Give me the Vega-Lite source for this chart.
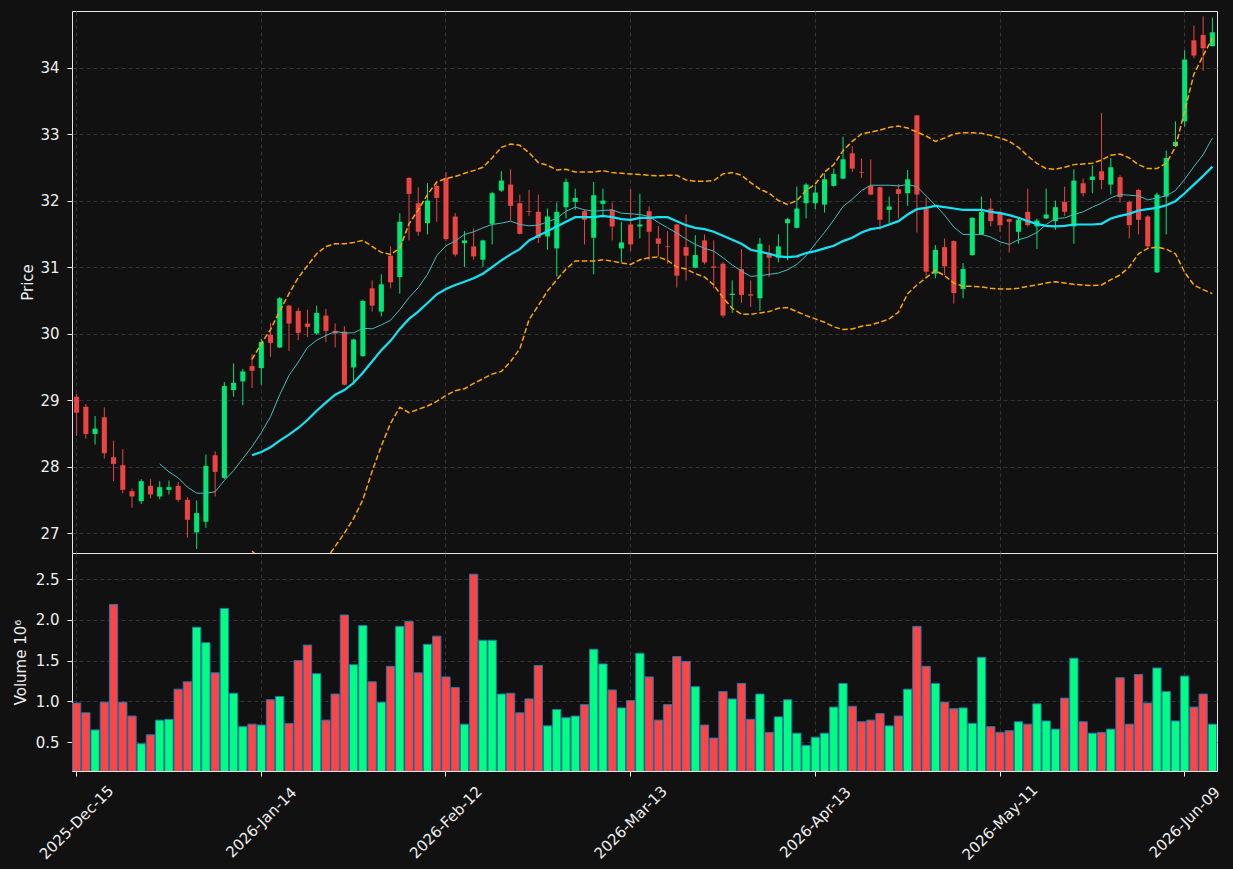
{
  "$schema": "https://vega.github.io/schema/vega-lite/v6.json",
  "background": "#111111",
  "padding": {"left": 12, "top": 10, "right": 17, "bottom": 5},
  "config": {
    "view": {"stroke": "#e8e8e8", "strokeWidth": 1, "fill": "#111111"},
    "axis": {
      "domain": false,
      "labelFont": "DejaVu Sans", "titleFont": "DejaVu Sans",
      "labelFontSize": 15, "titleFontSize": 15, "titleFontWeight": "normal",
      "labelColor": "#eeeeee", "titleColor": "#eeeeee", "tickColor": "#eeeeee",
      "gridColor": "#3d3d3d", "gridDash": [4, 3], "gridWidth": 0.8
    }
  },
  "data": {"values": [
    {"d":"2025-Dec-15","o":29.05,"h":29.09,"l":28.46,"c":28.81,"v":0.98},
    {"d":"2025-Dec-16","o":28.90,"h":28.94,"l":28.42,"c":28.49,"v":0.86},
    {"d":"2025-Dec-17","o":28.49,"h":28.76,"l":28.33,"c":28.57,"v":0.65},
    {"d":"2025-Dec-18","o":28.74,"h":28.89,"l":28.12,"c":28.20,"v":0.99},
    {"d":"2025-Dec-19","o":28.14,"h":28.39,"l":27.78,"c":28.04,"v":2.19},
    {"d":"2025-Dec-22","o":28.02,"h":28.26,"l":27.60,"c":27.65,"v":0.99},
    {"d":"2025-Dec-23","o":27.63,"h":27.67,"l":27.38,"c":27.55,"v":0.82},
    {"d":"2025-Dec-24","o":27.48,"h":27.81,"l":27.44,"c":27.78,"v":0.48},
    {"d":"2025-Dec-26","o":27.71,"h":27.81,"l":27.52,"c":27.58,"v":0.59},
    {"d":"2025-Dec-29","o":27.55,"h":27.78,"l":27.51,"c":27.69,"v":0.77,"m10":28.04},
    {"d":"2025-Dec-30","o":27.65,"h":27.79,"l":27.58,"c":27.69,"v":0.78,"m10":27.92},
    {"d":"2025-Dec-31","o":27.71,"h":27.77,"l":27.47,"c":27.50,"v":1.15,"m10":27.83},
    {"d":"2026-Jan-02","o":27.50,"h":27.54,"l":26.93,"c":27.20,"v":1.24,"m10":27.69},
    {"d":"2026-Jan-05","o":27.01,"h":27.49,"l":26.76,"c":27.30,"v":1.91,"m10":27.60},
    {"d":"2026-Jan-06","o":27.17,"h":28.18,"l":27.08,"c":28.01,"v":1.72,"m10":27.60},
    {"d":"2026-Jan-07","o":28.17,"h":28.23,"l":27.55,"c":27.92,"v":1.35,"m10":27.62},
    {"d":"2026-Jan-08","o":27.83,"h":29.27,"l":27.81,"c":29.21,"v":2.14,"m10":27.79},
    {"d":"2026-Jan-09","o":29.15,"h":29.55,"l":29.05,"c":29.26,"v":1.10,"m10":27.94},
    {"d":"2026-Jan-12","o":29.28,"h":29.47,"l":28.92,"c":29.43,"v":0.69,"m10":28.12},
    {"d":"2026-Jan-13","o":29.51,"h":29.69,"l":29.18,"c":29.44,"v":0.72,"m10":28.30,"m20":28.17,"bu":29.61,"bl":26.73},
    {"d":"2026-Jan-14","o":29.48,"h":29.92,"l":29.23,"c":29.87,"v":0.71,"m10":28.51,"m20":28.22,"bu":29.85,"bl":26.59},
    {"d":"2026-Jan-15","o":29.98,"h":30.16,"l":29.65,"c":29.86,"v":1.02,"m10":28.75,"m20":28.29,"bu":30.06,"bl":26.52},
    {"d":"2026-Jan-16","o":29.79,"h":30.55,"l":29.78,"c":30.53,"v":1.06,"m10":29.08,"m20":28.39,"bu":30.34,"bl":26.43},
    {"d":"2026-Jan-20","o":30.42,"h":30.43,"l":29.74,"c":30.15,"v":0.73,"m10":29.37,"m20":28.48,"bu":30.60,"bl":26.37},
    {"d":"2026-Jan-21","o":30.34,"h":30.39,"l":29.90,"c":30.01,"v":1.50,"m10":29.57,"m20":28.58,"bu":30.84,"bl":26.32},
    {"d":"2026-Jan-22","o":30.15,"h":30.36,"l":29.95,"c":30.10,"v":1.69,"m10":29.79,"m20":28.70,"bu":31.02,"bl":26.39},
    {"d":"2026-Jan-23","o":30.00,"h":30.42,"l":29.98,"c":30.31,"v":1.34,"m10":29.90,"m20":28.84,"bu":31.20,"bl":26.48},
    {"d":"2026-Jan-26","o":30.27,"h":30.37,"l":29.87,"c":30.04,"v":0.77,"m10":29.97,"m20":28.96,"bu":31.31,"bl":26.60},
    {"d":"2026-Jan-27","o":30.04,"h":30.15,"l":29.79,"c":30.00,"v":1.09,"m10":30.03,"m20":29.08,"bu":31.35,"bl":26.80},
    {"d":"2026-Jan-28","o":30.03,"h":30.11,"l":29.22,"c":29.23,"v":2.06,"m10":30.01,"m20":29.15,"bu":31.35,"bl":27.00},
    {"d":"2026-Jan-29","o":29.49,"h":29.92,"l":29.23,"c":29.91,"v":1.45,"m10":30.01,"m20":29.26,"bu":31.37,"bl":27.22},
    {"d":"2026-Jan-30","o":29.66,"h":30.51,"l":29.65,"c":30.49,"v":1.93,"m10":30.08,"m20":29.41,"bu":31.40,"bl":27.50},
    {"d":"2026-Feb-02","o":30.68,"h":30.80,"l":30.33,"c":30.42,"v":1.24,"m10":30.07,"m20":29.58,"bu":31.31,"bl":27.93},
    {"d":"2026-Feb-03","o":30.33,"h":30.89,"l":30.26,"c":30.74,"v":0.99,"m10":30.13,"m20":29.75,"bu":31.22,"bl":28.31},
    {"d":"2026-Feb-04","o":31.17,"h":31.31,"l":30.68,"c":30.77,"v":1.43,"m10":30.20,"m20":29.89,"bu":31.19,"bl":28.65},
    {"d":"2026-Feb-05","o":30.85,"h":31.81,"l":30.60,"c":31.68,"v":1.92,"m10":30.36,"m20":30.07,"bu":31.28,"bl":28.89},
    {"d":"2026-Feb-06","o":32.34,"h":32.35,"l":31.40,"c":32.10,"v":1.98,"m10":30.54,"m20":30.22,"bu":31.65,"bl":28.81},
    {"d":"2026-Feb-09","o":31.96,"h":32.20,"l":31.47,"c":31.53,"v":1.35,"m10":30.69,"m20":30.33,"bu":31.86,"bl":28.86},
    {"d":"2026-Feb-10","o":31.66,"h":32.26,"l":31.49,"c":32.00,"v":1.70,"m10":30.89,"m20":30.46,"bu":32.09,"bl":28.91},
    {"d":"2026-Feb-11","o":32.22,"h":32.28,"l":31.68,"c":32.04,"v":1.80,"m10":31.17,"m20":30.59,"bu":32.28,"bl":28.98},
    {"d":"2026-Feb-12","o":32.34,"h":32.43,"l":31.39,"c":31.42,"v":1.30,"m10":31.32,"m20":30.67,"bu":32.33,"bl":29.07},
    {"d":"2026-Feb-13","o":31.76,"h":31.81,"l":31.16,"c":31.19,"v":1.17,"m10":31.39,"m20":30.73,"bu":32.36,"bl":29.14},
    {"d":"2026-Feb-17","o":31.36,"h":31.54,"l":31.00,"c":31.40,"v":0.72,"m10":31.49,"m20":30.78,"bu":32.41,"bl":29.17},
    {"d":"2026-Feb-18","o":31.31,"h":31.58,"l":31.11,"c":31.16,"v":2.56,"m10":31.53,"m20":30.83,"bu":32.45,"bl":29.25},
    {"d":"2026-Feb-19","o":31.11,"h":31.41,"l":31.00,"c":31.40,"v":1.75,"m10":31.59,"m20":30.90,"bu":32.50,"bl":29.32},
    {"d":"2026-Feb-20","o":31.65,"h":32.13,"l":31.34,"c":32.11,"v":1.75,"m10":31.64,"m20":31.00,"bu":32.64,"bl":29.39},
    {"d":"2026-Feb-23","o":32.15,"h":32.44,"l":32.13,"c":32.30,"v":1.09,"m10":31.66,"m20":31.10,"bu":32.80,"bl":29.43},
    {"d":"2026-Feb-24","o":32.24,"h":32.47,"l":31.70,"c":31.92,"v":1.10,"m10":31.69,"m20":31.19,"bu":32.85,"bl":29.58},
    {"d":"2026-Feb-25","o":31.96,"h":32.09,"l":31.49,"c":31.50,"v":0.86,"m10":31.64,"m20":31.27,"bu":32.83,"bl":29.77},
    {"d":"2026-Feb-26","o":31.84,"h":32.16,"l":31.77,"c":31.83,"v":1.03,"m10":31.62,"m20":31.40,"bu":32.72,"bl":30.21},
    {"d":"2026-Feb-27","o":31.83,"h":32.09,"l":31.36,"c":31.44,"v":1.44,"m10":31.63,"m20":31.47,"bu":32.57,"bl":30.42},
    {"d":"2026-Mar-02","o":31.46,"h":31.88,"l":31.26,"c":31.76,"v":0.70,"m10":31.68,"m20":31.54,"bu":32.53,"bl":30.64},
    {"d":"2026-Mar-03","o":31.28,"h":31.97,"l":30.86,"c":31.83,"v":0.90,"m10":31.73,"m20":31.61,"bu":32.46,"bl":30.81},
    {"d":"2026-Mar-04","o":31.90,"h":32.33,"l":31.73,"c":32.28,"v":0.80,"m10":31.84,"m20":31.68,"bu":32.47,"bl":30.97},
    {"d":"2026-Mar-05","o":31.98,"h":32.18,"l":31.86,"c":32.04,"v":0.82,"m10":31.90,"m20":31.75,"bu":32.43,"bl":31.09},
    {"d":"2026-Mar-06","o":31.84,"h":31.86,"l":31.34,"c":31.71,"v":0.96,"m10":31.86,"m20":31.75,"bu":32.43,"bl":31.09},
    {"d":"2026-Mar-09","o":31.44,"h":32.28,"l":30.89,"c":32.08,"v":1.64,"m10":31.84,"m20":31.75,"bu":32.43,"bl":31.09},
    {"d":"2026-Mar-10","o":31.95,"h":32.18,"l":31.75,"c":32.00,"v":1.46,"m10":31.85,"m20":31.77,"bu":32.45,"bl":31.11},
    {"d":"2026-Mar-11","o":31.86,"h":31.97,"l":31.40,"c":31.61,"v":1.14,"m10":31.86,"m20":31.75,"bu":32.42,"bl":31.09},
    {"d":"2026-Mar-12","o":31.28,"h":31.68,"l":31.07,"c":31.37,"v":0.92,"m10":31.81,"m20":31.72,"bu":32.41,"bl":31.06},
    {"d":"2026-Mar-13","o":31.64,"h":32.17,"l":31.24,"c":31.34,"v":1.01,"m10":31.80,"m20":31.71,"bu":32.40,"bl":31.04},
    {"d":"2026-Mar-16","o":31.61,"h":32.10,"l":31.43,"c":31.64,"v":1.59,"m10":31.79,"m20":31.74,"bu":32.39,"bl":31.11},
    {"d":"2026-Mar-17","o":31.84,"h":31.91,"l":31.10,"c":31.53,"v":1.30,"m10":31.76,"m20":31.74,"bu":32.38,"bl":31.14},
    {"d":"2026-Mar-18","o":31.43,"h":31.62,"l":31.16,"c":31.35,"v":0.77,"m10":31.67,"m20":31.75,"bu":32.37,"bl":31.15},
    {"d":"2026-Mar-19","o":31.31,"h":31.54,"l":31.05,"c":31.30,"v":0.96,"m10":31.59,"m20":31.75,"bu":32.38,"bl":31.10},
    {"d":"2026-Mar-20","o":31.64,"h":31.65,"l":30.69,"c":30.87,"v":1.55,"m10":31.51,"m20":31.69,"bu":32.38,"bl":31.00},
    {"d":"2026-Mar-23","o":31.30,"h":31.79,"l":30.80,"c":31.17,"v":1.49,"m10":31.42,"m20":31.63,"bu":32.31,"bl":30.97},
    {"d":"2026-Mar-24","o":30.99,"h":31.48,"l":30.98,"c":31.18,"v":1.18,"m10":31.34,"m20":31.59,"bu":32.29,"bl":30.90},
    {"d":"2026-Mar-25","o":31.40,"h":31.49,"l":31.04,"c":31.07,"v":0.71,"m10":31.28,"m20":31.57,"bu":32.29,"bl":30.85},
    {"d":"2026-Mar-26","o":31.01,"h":31.40,"l":30.68,"c":30.99,"v":0.55,"m10":31.24,"m20":31.53,"bu":32.30,"bl":30.73},
    {"d":"2026-Mar-27","o":31.05,"h":31.07,"l":30.24,"c":30.27,"v":1.12,"m10":31.14,"m20":31.47,"bu":32.40,"bl":30.54},
    {"d":"2026-Mar-30","o":30.58,"h":30.80,"l":30.31,"c":30.60,"v":1.03,"m10":31.03,"m20":31.41,"bu":32.42,"bl":30.38},
    {"d":"2026-Mar-31","o":30.97,"h":31.27,"l":30.46,"c":30.58,"v":1.22,"m10":30.94,"m20":31.35,"bu":32.38,"bl":30.29},
    {"d":"2026-Apr-01","o":30.59,"h":30.80,"l":30.40,"c":30.57,"v":0.78,"m10":30.86,"m20":31.26,"bu":32.27,"bl":30.29},
    {"d":"2026-Apr-02","o":30.53,"h":31.44,"l":30.34,"c":31.35,"v":1.09,"m10":30.87,"m20":31.23,"bu":32.17,"bl":30.31},
    {"d":"2026-Apr-06","o":31.20,"h":31.33,"l":30.85,"c":31.14,"v":0.62,"m10":30.89,"m20":31.20,"bu":32.11,"bl":30.33},
    {"d":"2026-Apr-07","o":31.14,"h":31.49,"l":31.07,"c":31.31,"v":0.81,"m10":30.91,"m20":31.16,"bu":32.00,"bl":30.38},
    {"d":"2026-Apr-08","o":31.66,"h":31.74,"l":31.10,"c":31.72,"v":1.02,"m10":30.96,"m20":31.15,"bu":31.94,"bl":30.39},
    {"d":"2026-Apr-09","o":31.59,"h":32.21,"l":31.58,"c":31.88,"v":0.61,"m10":31.04,"m20":31.16,"bu":32.00,"bl":30.33},
    {"d":"2026-Apr-10","o":31.96,"h":32.26,"l":31.73,"c":32.24,"v":0.46,"m10":31.17,"m20":31.21,"bu":32.15,"bl":30.27},
    {"d":"2026-Apr-13","o":31.96,"h":32.23,"l":31.87,"c":32.12,"v":0.56,"m10":31.35,"m20":31.24,"bu":32.25,"bl":30.22},
    {"d":"2026-Apr-14","o":31.94,"h":32.41,"l":31.82,"c":32.32,"v":0.61,"m10":31.52,"m20":31.28,"bu":32.43,"bl":30.17},
    {"d":"2026-Apr-15","o":32.22,"h":32.48,"l":32.21,"c":32.40,"v":0.93,"m10":31.71,"m20":31.32,"bu":32.54,"bl":30.10},
    {"d":"2026-Apr-16","o":32.33,"h":32.96,"l":32.32,"c":32.62,"v":1.22,"m10":31.91,"m20":31.39,"bu":32.75,"bl":30.06},
    {"d":"2026-Apr-17","o":32.71,"h":32.82,"l":32.43,"c":32.48,"v":0.94,"m10":32.02,"m20":31.44,"bu":32.89,"bl":30.07},
    {"d":"2026-Apr-20","o":32.43,"h":32.63,"l":32.34,"c":32.42,"v":0.75,"m10":32.15,"m20":31.52,"bu":33.00,"bl":30.11},
    {"d":"2026-Apr-21","o":32.22,"h":32.62,"l":32.08,"c":32.09,"v":0.77,"m10":32.23,"m20":31.57,"bu":33.03,"bl":30.13},
    {"d":"2026-Apr-22","o":32.20,"h":32.21,"l":31.56,"c":31.71,"v":0.85,"m10":32.23,"m20":31.59,"bu":33.06,"bl":30.17},
    {"d":"2026-Apr-23","o":31.86,"h":32.06,"l":31.66,"c":31.91,"v":0.70,"m10":32.23,"m20":31.64,"bu":33.10,"bl":30.22},
    {"d":"2026-Apr-24","o":32.17,"h":32.25,"l":31.73,"c":32.10,"v":0.82,"m10":32.22,"m20":31.69,"bu":33.12,"bl":30.32},
    {"d":"2026-Apr-27","o":32.11,"h":32.46,"l":31.92,"c":32.32,"v":1.15,"m10":32.24,"m20":31.79,"bu":33.09,"bl":30.60},
    {"d":"2026-Apr-28","o":33.28,"h":33.29,"l":31.52,"c":32.09,"v":1.92,"m10":32.21,"m20":31.87,"bu":33.03,"bl":30.73},
    {"d":"2026-Apr-29","o":31.88,"h":32.04,"l":30.87,"c":30.93,"v":1.43,"m10":32.07,"m20":31.89,"bu":32.97,"bl":30.84},
    {"d":"2026-Apr-30","o":30.90,"h":31.33,"l":30.83,"c":31.26,"v":1.22,"m10":31.93,"m20":31.92,"bu":32.89,"bl":30.95},
    {"d":"2026-May-01","o":31.30,"h":31.43,"l":30.88,"c":31.01,"v":0.99,"m10":31.78,"m20":31.90,"bu":32.94,"bl":30.87},
    {"d":"2026-May-04","o":31.39,"h":31.40,"l":30.45,"c":30.61,"v":0.91,"m10":31.60,"m20":31.88,"bu":33.00,"bl":30.76},
    {"d":"2026-May-05","o":30.67,"h":31.06,"l":30.53,"c":30.97,"v":0.92,"m10":31.49,"m20":31.86,"bu":33.02,"bl":30.71},
    {"d":"2026-May-06","o":31.18,"h":31.75,"l":31.17,"c":31.74,"v":0.73,"m10":31.49,"m20":31.86,"bu":33.02,"bl":30.71},
    {"d":"2026-May-07","o":31.49,"h":32.06,"l":31.48,"c":31.83,"v":1.54,"m10":31.49,"m20":31.86,"bu":33.01,"bl":30.70},
    {"d":"2026-May-08","o":31.88,"h":32.03,"l":31.61,"c":31.69,"v":0.69,"m10":31.45,"m20":31.83,"bu":32.98,"bl":30.68},
    {"d":"2026-May-11","o":31.83,"h":31.84,"l":31.53,"c":31.63,"v":0.62,"m10":31.38,"m20":31.81,"bu":32.94,"bl":30.67},
    {"d":"2026-May-12","o":31.72,"h":31.73,"l":31.22,"c":31.68,"v":0.64,"m10":31.34,"m20":31.78,"bu":32.89,"bl":30.67},
    {"d":"2026-May-13","o":31.53,"h":31.73,"l":31.35,"c":31.71,"v":0.75,"m10":31.41,"m20":31.74,"bu":32.80,"bl":30.68},
    {"d":"2026-May-14","o":31.83,"h":32.18,"l":31.61,"c":31.63,"v":0.72,"m10":31.45,"m20":31.69,"bu":32.67,"bl":30.71},
    {"d":"2026-May-15","o":31.61,"h":31.73,"l":31.27,"c":31.70,"v":0.97,"m10":31.52,"m20":31.65,"bu":32.56,"bl":30.73},
    {"d":"2026-May-18","o":31.73,"h":32.18,"l":31.72,"c":31.79,"v":0.76,"m10":31.64,"m20":31.62,"bu":32.48,"bl":30.76},
    {"d":"2026-May-19","o":31.69,"h":32.00,"l":31.56,"c":31.90,"v":0.66,"m10":31.73,"m20":31.61,"bu":32.47,"bl":30.78},
    {"d":"2026-May-20","o":31.98,"h":32.21,"l":31.77,"c":31.83,"v":1.04,"m10":31.74,"m20":31.62,"bu":32.50,"bl":30.76},
    {"d":"2026-May-21","o":31.61,"h":32.47,"l":31.35,"c":32.30,"v":1.53,"m10":31.79,"m20":31.64,"bu":32.54,"bl":30.74},
    {"d":"2026-May-22","o":32.26,"h":32.33,"l":32.06,"c":32.11,"v":0.75,"m10":31.83,"m20":31.64,"bu":32.55,"bl":30.73},
    {"d":"2026-May-26","o":32.31,"h":32.53,"l":32.11,"c":32.36,"v":0.61,"m10":31.90,"m20":31.64,"bu":32.56,"bl":30.72},
    {"d":"2026-May-27","o":32.44,"h":33.32,"l":32.17,"c":32.31,"v":0.62,"m10":31.96,"m20":31.65,"bu":32.61,"bl":30.73},
    {"d":"2026-May-28","o":32.24,"h":32.64,"l":32.09,"c":32.50,"v":0.66,"m10":32.04,"m20":31.73,"bu":32.68,"bl":30.81},
    {"d":"2026-May-29","o":32.35,"h":32.38,"l":31.97,"c":32.05,"v":1.29,"m10":32.09,"m20":31.77,"bu":32.70,"bl":30.88},
    {"d":"2026-Jun-01","o":31.98,"h":32.00,"l":31.43,"c":31.63,"v":0.72,"m10":32.08,"m20":31.80,"bu":32.64,"bl":31.00},
    {"d":"2026-Jun-02","o":32.16,"h":32.17,"l":31.49,"c":31.71,"v":1.33,"m10":32.07,"m20":31.85,"bu":32.54,"bl":31.20},
    {"d":"2026-Jun-03","o":31.76,"h":31.78,"l":31.29,"c":31.31,"v":0.98,"m10":32.01,"m20":31.87,"bu":32.48,"bl":31.28},
    {"d":"2026-Jun-04","o":30.92,"h":32.12,"l":30.91,"c":32.09,"v":1.41,"m10":32.04,"m20":31.89,"bu":32.48,"bl":31.30},
    {"d":"2026-Jun-05","o":32.06,"h":32.75,"l":31.49,"c":32.64,"v":1.12,"m10":32.07,"m20":31.93,"bu":32.56,"bl":31.27},
    {"d":"2026-Jun-08","o":32.82,"h":33.19,"l":32.81,"c":32.88,"v":0.76,"m10":32.15,"m20":31.99,"bu":32.80,"bl":31.20},
    {"d":"2026-Jun-09","o":33.19,"h":34.26,"l":33.11,"c":34.12,"v":1.31,"m10":32.32,"m20":32.11,"bu":33.35,"bl":30.92},
    {"d":"2026-Jun-10","o":34.41,"h":34.63,"l":34.14,"c":34.18,"v":0.93,"m10":32.51,"m20":32.24,"bu":33.90,"bl":30.73},
    {"d":"2026-Jun-11","o":34.49,"h":34.77,"l":33.95,"c":34.29,"v":1.09,"m10":32.69,"m20":32.37,"bu":34.18,"bl":30.66},
    {"d":"2026-Jun-12","o":34.32,"h":34.75,"l":34.32,"c":34.53,"v":0.72,"m10":32.94,"m20":32.51,"bu":34.44,"bl":30.60}
  ]},
  "spacing": 0,
  "bounds": "flush",
  "vconcat": [
    {
      "width": 1145,
      "height": 542,
      "encoding": {
        "x": {
          "field": "d", "type": "ordinal", "sort": null,
          "scale": {"paddingInner": 0, "paddingOuter": -0.176},
          "axis": {
            "values": ["2025-Dec-15","2026-Jan-14","2026-Feb-12","2026-Mar-13","2026-Apr-13","2026-May-11","2026-Jun-09"],
            "labels": false, "ticks": false, "domain": false, "title": null, "grid": true, "bandPosition": 0.5
          }
        }
      },
      "layer": [
        {
          "mark": {"type": "rule", "strokeWidth": 1},
          "encoding": {
            "y": {
              "field": "l", "type": "quantitative", "title": "Price",
              "scale": {"domain": [26.70, 34.85], "zero": false, "nice": false},
              "axis": {"title": "Price", "values": [27, 28, 29, 30, 31, 32, 33, 34], "format": "d", "grid": true, "tickSize": 5, "labelPadding": 8, "minExtent": 32, "maxExtent": 32, "titlePadding": 5}
            },
            "y2": {"field": "h"},
            "color": {"condition": {"test": "datum.c >= datum.o", "value": "#00e676"}, "value": "#ec4343"}
          }
        },
        {
          "mark": {"type": "bar", "width": {"band": 0.55}},
          "encoding": {
            "y": {"field": "o", "type": "quantitative", "title": "Price"},
            "y2": {"field": "c"},
            "fill": {"condition": {"test": "datum.c >= datum.o", "value": "#00e676"}, "value": "#ec4343"}
          }
        },
        {
          "mark": {"type": "line", "color": "#45bcbc", "strokeWidth": 1, "clip": true},
          "encoding": {"y": {"field": "m10", "type": "quantitative", "title": "Price"}}
        },
        {
          "mark": {"type": "line", "color": "#12e4f5", "strokeWidth": 2.2, "clip": true},
          "encoding": {"y": {"field": "m20", "type": "quantitative", "title": "Price"}}
        },
        {
          "mark": {"type": "line", "color": "#ffa500", "strokeWidth": 1.5, "strokeDash": [5.5, 2.5], "clip": true},
          "encoding": {"y": {"field": "bu", "type": "quantitative", "title": "Price"}}
        },
        {
          "mark": {"type": "line", "color": "#ffa500", "strokeWidth": 1.5, "strokeDash": [5.5, 2.5], "clip": true},
          "encoding": {"y": {"field": "bl", "type": "quantitative", "title": "Price"}}
        }
      ]
    },
    {
      "width": 1145,
      "height": 218,
      "mark": {"type": "bar", "width": {"band": 0.9}, "stroke": "#1f77b4", "strokeWidth": 1, "clip": true},
      "encoding": {
        "x": {
          "field": "d", "type": "ordinal", "sort": null,
          "scale": {"paddingInner": 0, "paddingOuter": -0.176},
          "axis": {
            "values": ["2025-Dec-15","2026-Jan-14","2026-Feb-12","2026-Mar-13","2026-Apr-13","2026-May-11","2026-Jun-09"],
            "labelAngle": -45, "labelAlign": "center", "labelBaseline": "middle", "labelPadding": 46,
            "tickSize": 5, "title": null, "grid": true, "bandPosition": 0.5, "domain": false
          }
        },
        "y": {
          "field": "v", "type": "quantitative",
          "scale": {"domain": [0.146, 2.82], "zero": false, "nice": false},
          "axis": {"title": "Volume  10⁶", "values": [0.5, 1.0, 1.5, 2.0, 2.5], "format": ".1f", "grid": true, "tickSize": 5, "labelPadding": 8, "minExtent": 32, "maxExtent": 32, "titlePadding": 12}
        },
        "fill": {"condition": {"test": "datum.c >= datum.o", "value": "#00ff80"}, "value": "#ff4444"}
      }
    }
  ]
}
